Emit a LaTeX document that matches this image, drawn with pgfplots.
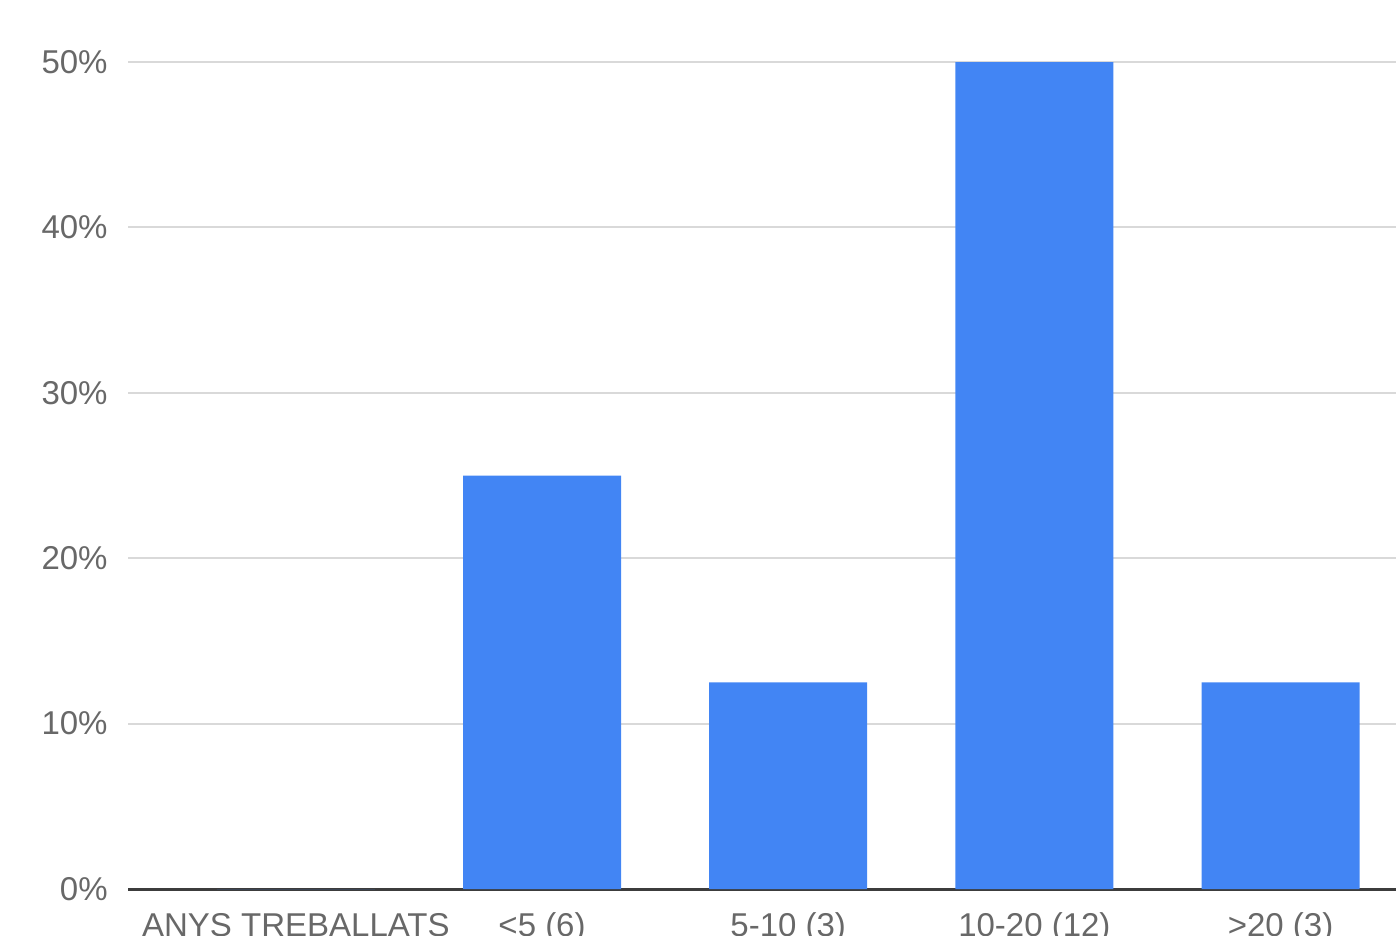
\documentclass[border=0pt]{standalone}
\usepackage{fontspec}
\setmainfont{Liberation Sans}
\usepackage{pgfplots}
\pgfplotsset{compat=1.18}
\definecolor{barblue}{HTML}{4285F4}
\definecolor{gridgray}{HTML}{D9D9D9}
\definecolor{txtgray}{HTML}{686868}
\definecolor{axisdark}{HTML}{3C3C3C}
\begin{document}
\begin{tikzpicture}
\begin{axis}[
  at={(64pt,-444.5pt)}, anchor=south west,
  scale only axis,
  width=634pt, height=413.5pt,
  xmin=-0.682, xmax=4.469,
  ymin=0, ymax=50,
  axis line style={draw=none},
  major tick length=0pt,
  ytick={0,10,20,30,40,50},
  ymajorgrids,
  grid style={gridgray, line width=1pt},
  extra y ticks={0},
  extra y tick labels={},
  extra y tick style={grid style={axisdark, line width=1.5pt}},
  xtick={0,1,2,3,4},
  xticklabels={ANYS TREBALLATS,{<5 (6)},{5-10 (3)},{10-20 (12)},{>20 (3)}},
  /pgf/number format/assume math mode=true,
  yticklabel={\pgfmathprintnumber{\tick}\%},
  tick label style={font=\fontsize{16.5}{18}\selectfont, text=txtgray},
  yticklabel style={anchor=east, inner sep=0pt, xshift=-10pt},
  xticklabel style={anchor=base, inner sep=0pt, yshift=-23.5pt},
]
\addplot[ybar, bar width=79pt, bar shift=0pt, fill=barblue, draw=none]
  coordinates {(0,0) (1,25) (2,12.5) (3,50) (4,12.5)};
\end{axis}
\pgfresetboundingbox
\useasboundingbox (0,0) rectangle (698pt,-468pt);
\end{tikzpicture}
\end{document}
